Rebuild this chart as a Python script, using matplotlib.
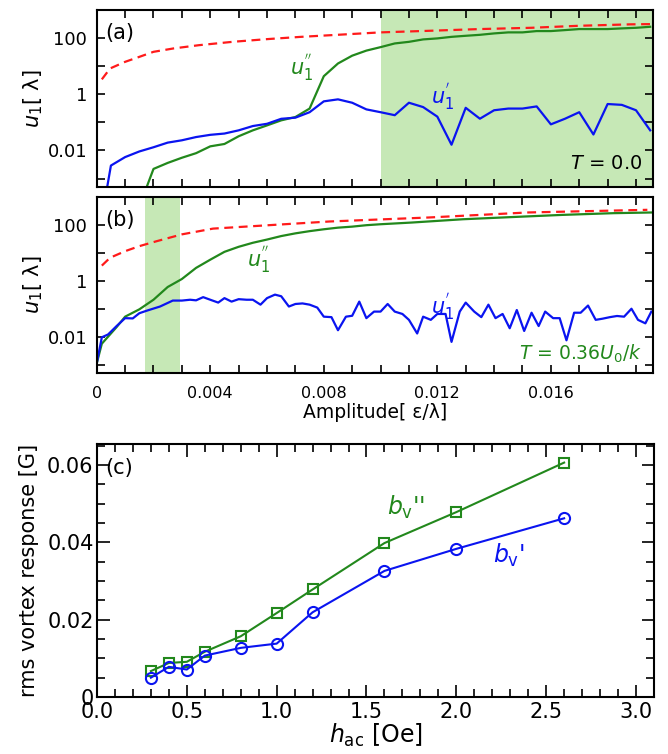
import numpy as np
import matplotlib
matplotlib.use("Agg")
import matplotlib.pyplot as plt
from matplotlib.ticker import LogLocator, FuncFormatter, MultipleLocator, NullLocator

plt.rcParams["font.family"] = ["DejaVu Sans"]

# ---- panel (a): T = 0 ----
a_red_x = [0.00018, 0.00047, 0.001, 0.0015, 0.002, 0.0027, 0.0036, 0.0048, 0.006,
           0.0072, 0.0083, 0.010, 0.0117, 0.0135, 0.0153, 0.017, 0.0188, 0.0196]
a_red_y = [3.4, 8.3, 14.3, 21.5, 32.5, 42.8, 56, 74, 92, 111, 128, 160, 182, 210,
           233, 275, 309, 316]

a_grn_x = [0.0015, 0.002, 0.0025, 0.003, 0.0035, 0.004, 0.0045, 0.005, 0.0055, 0.006,
           0.0065, 0.007, 0.0075, 0.008, 0.0085, 0.009, 0.0095, 0.010, 0.0105, 0.011,
           0.0115, 0.012, 0.0125, 0.013, 0.0135, 0.014, 0.0145, 0.015, 0.0155, 0.016,
           0.0165, 0.017, 0.0175, 0.018, 0.0185, 0.019, 0.0195]
a_grn_y = [1e-4, 0.0022, 0.0036, 0.0055, 0.008, 0.014, 0.017, 0.032, 0.052, 0.078,
           0.118, 0.155, 0.31, 4.4, 12.5, 23.7, 35.9, 47.7, 64.6, 73.7,
           89.9, 97.6, 111, 121, 131, 147, 160, 160, 178, 178,
           193, 210, 210, 210, 222, 233, 253]

a_blu_x = [0.0003, 0.0005, 0.001, 0.0015, 0.002, 0.0025, 0.003, 0.0035, 0.004, 0.0045,
           0.005, 0.0055, 0.006, 0.0065, 0.007, 0.0075, 0.008, 0.0085, 0.009, 0.0095,
           0.010, 0.0105, 0.011, 0.0115, 0.012, 0.0125, 0.013, 0.0135, 0.014, 0.0145,
           0.015, 0.0155, 0.016, 0.0165, 0.017, 0.0175, 0.018, 0.0185, 0.019, 0.0195]
a_blu_y = [2e-4, 0.0029, 0.0058, 0.0092, 0.013, 0.019, 0.023, 0.030, 0.036, 0.040,
           0.052, 0.074, 0.089, 0.134, 0.147, 0.23, 0.56, 0.66, 0.50, 0.29,
           0.23, 0.18, 0.50, 0.35, 0.16, 0.016, 0.33, 0.135, 0.27, 0.31,
           0.31, 0.37, 0.085, 0.135, 0.23, 0.037, 0.45, 0.42, 0.27, 0.052]

# ---- panel (b): T = 0.36 U0/k ----
b_red_x = [0.00018, 0.00047, 0.001, 0.0015, 0.0021, 0.003, 0.0041, 0.0082, 0.0117,
           0.0152, 0.0194]
b_red_y = [3.5, 6.7, 11.5, 17.4, 26, 46, 74, 133, 185, 280, 348]

b_grn_x = [0.0, 0.00018, 0.0004, 0.0007, 0.001, 0.0015, 0.002, 0.0025, 0.003, 0.0035,
           0.004, 0.0045, 0.005, 0.0055, 0.006, 0.0065, 0.007, 0.0075, 0.008, 0.0085,
           0.009, 0.0095, 0.010, 0.0111, 0.0129, 0.0147, 0.0164, 0.0182, 0.0196]
b_grn_y = [0.0011, 0.0056, 0.01, 0.022, 0.052, 0.095, 0.21, 0.60, 1.16, 2.9,
           5.7, 10.9, 16.5, 23, 30, 40, 50, 60, 70, 80,
           87, 98, 106, 122, 160, 193, 229, 264, 280]

b_blu_x = [0.0, 0.00018, 0.0004, 0.0007, 0.001, 0.00127, 0.0015, 0.00176, 0.00223,
           0.00268, 0.003, 0.00329, 0.0035, 0.00375, 0.004, 0.00428, 0.0045, 0.00475,
           0.005, 0.00528, 0.0055, 0.00577, 0.006, 0.00628, 0.0065, 0.00677, 0.007,
           0.00725, 0.0075, 0.00777, 0.008, 0.00827, 0.0085, 0.00878, 0.009, 0.00925,
           0.0095, 0.00977, 0.010, 0.01025, 0.0105, 0.01077, 0.011, 0.01129, 0.0115,
           0.01177, 0.012, 0.01229, 0.0125, 0.01279, 0.013, 0.0133, 0.01355, 0.0138,
           0.01405, 0.0143, 0.01455, 0.0148, 0.01506, 0.01532, 0.01557, 0.0158,
           0.01608, 0.01631, 0.01655, 0.01682, 0.01705, 0.01731, 0.01758, 0.01782,
           0.01808, 0.01833, 0.01858, 0.01884, 0.01907, 0.01933, 0.01954]
b_blu_y = [0.0011, 0.0095, 0.012, 0.024, 0.046, 0.045, 0.069, 0.085, 0.12,
           0.196, 0.196, 0.21, 0.20, 0.26, 0.21, 0.166, 0.24, 0.18,
           0.22, 0.21, 0.21, 0.14, 0.24, 0.32, 0.28, 0.12, 0.148,
           0.155, 0.14, 0.11, 0.052, 0.05, 0.017, 0.052, 0.056, 0.18,
           0.046, 0.079, 0.079, 0.148, 0.079, 0.065, 0.04, 0.013, 0.052,
           0.04, 0.065, 0.065, 0.0065, 0.079, 0.166, 0.079, 0.05, 0.14,
           0.046, 0.065, 0.02, 0.09, 0.016, 0.072, 0.024, 0.079,
           0.046, 0.046, 0.0074, 0.072, 0.072, 0.13, 0.04, 0.044,
           0.05, 0.055, 0.052, 0.1, 0.04, 0.030, 0.079]

# ---- panel (c): rms vortex response vs h_ac ----
h_ac = [0.3, 0.4, 0.5, 0.6, 0.8, 1.0, 1.2, 1.6, 2.0, 2.6]
bv_dd = [0.0067, 0.0088, 0.0091, 0.0117, 0.0157, 0.0217, 0.0278, 0.0398, 0.0478, 0.0606]
bv_d = [0.0050, 0.0078, 0.0071, 0.0107, 0.0127, 0.0138, 0.0219, 0.0326, 0.0383, 0.0462]

RED = "#ff1a1a"
GRN = "#22881c"
BLU = "#0a14f0"
SHADE = "#c6e8b6"

fig = plt.figure(figsize=(6.68, 7.54), dpi=100)
ax_a = fig.add_axes([0.1448, 0.752, 0.8328, 0.2347])
ax_b = fig.add_axes([0.1448, 0.5053, 0.8328, 0.2334])
ax_c = fig.add_axes([0.1452, 0.0756, 0.8338, 0.3355])


def log_fmt(v, pos):
    labels = {100.0: "100", 1.0: "1", 0.01: "0.01"}
    for k, s in labels.items():
        if abs(v - k) / k < 1e-6:
            return s
    return ""


def style_top(ax):
    ax.set_yscale("log")
    ax.set_ylim(5e-4, 1000)
    ax.set_xlim(0, 0.0196)
    ax.yaxis.set_major_locator(LogLocator(base=10, subs=(1.0,), numticks=20))
    ax.yaxis.set_minor_locator(NullLocator())
    ax.yaxis.set_major_formatter(FuncFormatter(log_fmt))
    ax.xaxis.set_major_locator(MultipleLocator(0.004))
    ax.xaxis.set_minor_locator(MultipleLocator(0.001))
    ax.tick_params(which="both", direction="in", top=True, right=True,
                   length=6, width=1.2)
    ax.tick_params(axis="y", labelsize=13, pad=7)
    ax.tick_params(axis="x", labelsize=11.5, pad=9)
    for s in ax.spines.values():
        s.set_linewidth(1.5)
    ax.set_ylabel(r"$u_1$[ λ]", fontsize=15, labelpad=2)


for ax in (ax_a, ax_b):
    style_top(ax)

# (a)
ax_a.axvspan(0.010, 0.0196, color=SHADE, lw=0, zorder=0)
ax_a.plot(a_red_x, a_red_y, color=RED, lw=1.6, ls=(0, (4, 2.5)))
ax_a.plot(a_grn_x, a_grn_y, color=GRN, lw=1.6)
ax_a.plot(a_blu_x, a_blu_y, color=BLU, lw=1.6)
ax_a.tick_params(labelbottom=False)
ax_a.text(0.015, 0.87, "(a)", transform=ax_a.transAxes, fontsize=15, va="center")
ax_a.text(0.0072, 9, r"$u_1^{''}$", color=GRN, fontsize=15, ha="center", va="center")
ax_a.text(0.0122, 0.8, r"$u_1^{'}$", color=BLU, fontsize=15, ha="center", va="center")
ax_a.text(0.98, 0.13, r"$T$ = 0.0", transform=ax_a.transAxes, fontsize=14,
          ha="right", va="center")

# (b)
ax_b.axvspan(0.0017, 0.00295, color=SHADE, lw=0, zorder=0)
ax_b.plot(b_red_x, b_red_y, color=RED, lw=1.6, ls=(0, (4, 2.5)))
ax_b.plot(b_grn_x, b_grn_y, color=GRN, lw=1.6)
ax_b.plot(b_blu_x, b_blu_y, color=BLU, lw=1.6)
ax_b.text(0.015, 0.87, "(b)", transform=ax_b.transAxes, fontsize=15, va="center")
ax_b.text(0.0057, 5.5, r"$u_1^{''}$", color=GRN, fontsize=15, ha="center", va="center")
ax_b.text(0.0122, 0.12, r"$u_1^{'}$", color=BLU, fontsize=15, ha="center", va="center")
ax_b.text(0.98, 0.11, r"$T$ = 0.36$U_0$/$k$", transform=ax_b.transAxes, fontsize=13.5,
          ha="right", va="center", color=GRN)
ax_b.xaxis.set_major_formatter(FuncFormatter(lambda v, p: "0" if abs(v) < 1e-9 else f"{v:.3f}"))
ax_b.set_xlabel("Amplitude[ ε/λ]", fontsize=13.5, labelpad=2)

# (c)
ax_c.plot(h_ac, bv_dd, color=GRN, lw=1.5, marker="s", ms=7, mfc="none", mew=1.5)
ax_c.plot(h_ac, bv_d, color=BLU, lw=1.5, marker="o", ms=8, mfc="none", mew=1.5)
ax_c.set_xlim(0, 3.1)
ax_c.set_ylim(0, 0.0654)
ax_c.xaxis.set_major_locator(MultipleLocator(0.5))
ax_c.xaxis.set_minor_locator(MultipleLocator(0.1))
ax_c.yaxis.set_major_locator(MultipleLocator(0.02))
ax_c.yaxis.set_minor_locator(MultipleLocator(0.005))
ax_c.yaxis.set_major_formatter(FuncFormatter(lambda v, p: "0" if abs(v) < 1e-12 else f"{v:.2f}"))
ax_c.xaxis.set_major_formatter(FuncFormatter(lambda v, p: f"{v:.1f}"))
ax_c.tick_params(which="both", direction="in", top=True, right=True, width=1.2, labelsize=15)
ax_c.tick_params(axis="y", pad=2.5)
ax_c.tick_params(which="major", length=9)
ax_c.tick_params(which="minor", length=6)
for s in ax_c.spines.values():
    s.set_linewidth(1.5)
ax_c.set_ylabel("rms vortex response [G]", fontsize=15, labelpad=6)
ax_c.set_xlabel(r"$h_{\mathrm{ac}}$ [Oe]", fontsize=17, labelpad=0)
ax_c.text(0.015, 0.905, "(c)", transform=ax_c.transAxes, fontsize=15, va="center")
ax_c.text(1.72, 0.049, r"$b_{\mathrm{v}}$''", color=GRN, fontsize=17, ha="center", va="center")
ax_c.text(2.29, 0.0365, r"$b_{\mathrm{v}}$'", color=BLU, fontsize=17, ha="center", va="center")

fig.savefig("out.png", dpi=100)
